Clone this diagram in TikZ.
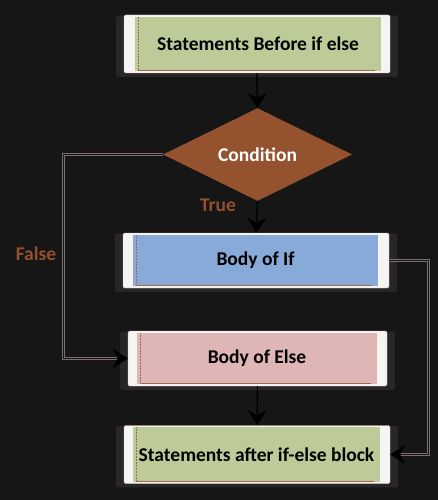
\documentclass[tikz,border=0pt]{standalone}
\usepackage{fontspec}
\setmainfont{Carlito}
\usetikzlibrary{shapes.geometric,arrows.meta,shadows}
\definecolor{bg}{HTML}{161616}
\definecolor{boxwhite}{HTML}{F6F5F1}
\definecolor{greenf}{HTML}{BCCB98}
\definecolor{bluef}{HTML}{87AAD8}
\definecolor{pinkf}{HTML}{DFB6B6}
\definecolor{brownf}{HTML}{95522F}
\definecolor{brownt}{HTML}{94502E}
\definecolor{shadowc}{HTML}{282626}
\definecolor{connc}{HTML}{7A6E6E}
\definecolor{edgec}{HTML}{A0684E}
\tikzset{
  outerbox/.style={rectangle, rounded corners=1.5pt, fill=boxwhite, draw=pinkf, line width=0.4pt,
    inner sep=0pt, general shadow={fill=shadowc, shadow scale=1.06, shadow yshift=-2pt}},
  innerbox/.style={rectangle, inner sep=0pt, font=\fontsize{19.5}{23}\bfseries\selectfont, text=black,
    path picture={\draw[edgec, line width=0.5pt, densely dotted]
      ([xshift=3pt]path picture bounding box.north west) -- ([xshift=3pt,yshift=1pt]path picture bounding box.south west);
      \draw[edgec, line width=0.5pt]
      ([xshift=3pt,yshift=1pt]path picture bounding box.south west)
      -- ([xshift=-6pt,yshift=1pt]path picture bounding box.south east);}},
  decision/.style={diamond, fill=brownf, inner sep=0pt, minimum width=189pt, minimum height=84pt,
    font=\fontsize{19.5}{23}\bfseries\selectfont, text=white},
  lbl/.style={font=\fontsize{19.5}{23}\bfseries\selectfont, text=brownt},
  flow/.style={draw=black, line width=1.4pt, -{Stealth[length=15pt,width=19pt,inset=5pt]}},
  sideflow/.style={draw=connc, line width=1pt, double=bg, double distance=1pt,
    -{Stealth[length=15pt,width=19pt,inset=5pt,color=black]}},
}
\begin{document}
\begin{tikzpicture}[x=1pt,y=-1pt]
\fill[bg] (0,0) rectangle (438,500);
\useasboundingbox (0,0) rectangle (438,500);

% boxes
\node[outerbox, minimum width=266pt, minimum height=58pt] (o1) at (257,44) {};
\node[innerbox, fill=greenf, minimum width=246pt, minimum height=54pt] (b1) at (258,44) {Statements Before if else};

\node[decision] (cond) at (257.5,154.5) {Condition};

\node[outerbox, minimum width=266pt, minimum height=55pt] (o2) at (256,260.5) {};
\node[innerbox, fill=bluef, minimum width=245pt, minimum height=51pt] (b2) at (255.5,260.5) {Body of If};

\node[outerbox, minimum width=259pt, minimum height=55pt] (o3) at (257.5,358.5) {};
\node[innerbox, fill=pinkf, minimum width=240pt, minimum height=51pt] (b3) at (257,358.5) {Body of Else};

\node[outerbox, minimum width=266pt, minimum height=58pt] (o4) at (257,454.5) {};
\node[innerbox, fill=greenf, minimum width=247pt, minimum height=55pt] (b4) at (256.5,454.5) {Statements after if-else block};

% labels
\node[lbl] (ltrue) at (218,205) {True};
\node[lbl] (lfalse) at (36,254) {False};

% connectors
\draw[flow] (o1.south) -- (cond.north);
\draw[flow] (cond.south) -- (o2.north);
\draw[flow] (o3.south) -- (o4.north);
\coordinate (lcorner) at (63.5,154.5);
\coordinate (rcorner) at (428.5,260.5);
\draw[sideflow] (cond.west) -- (lcorner) |- (o3.west);
\draw[sideflow] (o2.east) -- (rcorner) |- (o4.east);
\end{tikzpicture}
\end{document}
